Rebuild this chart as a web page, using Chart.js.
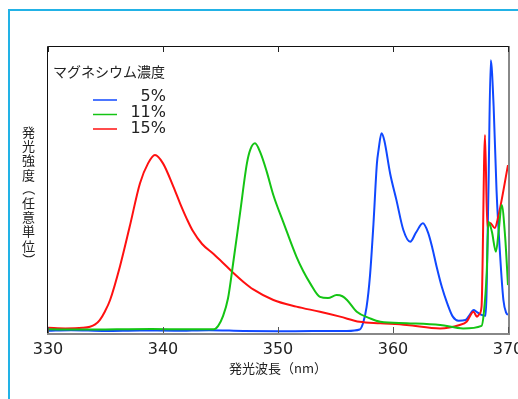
<!DOCTYPE html>
<html>
<head>
<meta charset="utf-8">
<script src="https://cdn.jsdelivr.net/npm/chart.js@4.4.1/dist/chart.umd.min.js"></script>
<style>
  body { margin: 0; background: #fff; }
</style>
</head>
<body>
<canvas id="spectrum" width="518" height="399"></canvas>
<script>
// Emission spectra, wavelength (nm) vs intensity (arb. units, 0-100)
const seriesLabels = ['5%', '11%', '15%'];
const legendTitle = 'マグネシウム濃度';
const yTitle = '発光強度（任意単位）';

const wl5 = [330, 332, 335, 338, 341, 344, 347, 350, 353, 356,
  357.1, 357.4, 357.7, 358.0, 358.3, 358.6, 358.75, 359.0, 359.25, 359.75,
  360.3, 360.9, 361.5, 362.0, 362.6, 363.05, 363.4, 363.8, 364.25, 364.7,
  365.2, 365.7, 366.3, 366.7, 367.0, 367.3, 367.7, 368.05, 368.3, 368.5,
  368.75, 369.0, 369.3, 369.6, 369.85, 370];
const int5 = [0.8, 1.0, 0.7, 0.9, 0.8, 1.0, 0.7, 0.6, 0.7, 0.7,
  1.2, 3.5, 9, 20, 38, 59, 64, 69.6, 67, 55.6,
  46.3, 35.9, 31.8, 35, 38.2, 35, 30, 23, 16, 10.5,
  5.7, 4.3, 4.5, 6.5, 8, 7.3, 6.3, 6, 50, 95,
  79, 50, 28, 11.5, 7, 6.3];

const wl11 = [330, 333, 336, 339, 342, 344.4, 344.8, 345.2, 345.65, 346.1,
  346.7, 347.3, 347.6, 348.0, 348.45, 349.0, 349.6, 350.5, 351.6, 352.2,
  352.8, 353.65, 354.35, 355.1, 355.6, 356.0, 356.85, 358.0, 358.9, 361.2,
  364.1, 366.1, 367.7, 367.9, 368.15, 368.3, 368.6, 368.95, 369.2, 369.45,
  369.75, 370];
const int11 = [1.3, 1.2, 1.3, 1.4, 1.3, 1.3, 2.5, 5.7, 12, 24.3,
  41.8, 59.2, 64, 66.1, 63, 56.5, 48, 38.2, 26.6, 21.5,
  17.3, 12.6, 12.2, 13.2, 12.8, 11.5, 7.4, 5.1, 3.9, 3.4,
  2.8, 1.6, 2.5, 7, 21, 38.8, 35.3, 28.3, 36, 44.6,
  33.6, 16.7];

const wl15 = [330, 331.5, 333, 333.65, 334.1, 334.5, 334.95, 335.4, 336.25, 337.1,
  338.0, 338.7, 339.3, 340.0, 340.9, 341.5, 342.1, 342.6, 343.4, 344.4,
  345.2, 346.1, 347.0, 347.85, 349.6, 351.6, 353.65, 355.4, 357.1, 358.9,
  361.2, 364.1, 365.8, 366.4, 367.0, 367.3, 367.5, 367.7, 368.0, 368.2,
  368.45, 368.85, 369.15, 370];
const int15 = [1.8, 1.6, 1.8, 2.2, 3, 4.5, 7.5, 11.5, 23.1, 37,
  52.2, 59.1, 62, 59.1, 51, 45, 39.5, 35.5, 31, 27.5,
  24.5, 21, 17.8, 15.2, 11.5, 9.2, 7.4, 5.7, 3.9, 3.4,
  2.8, 1.6, 2.8, 3.9, 7.4, 5.7, 6.5, 9.2, 69, 37,
  38.3, 36.6, 40.5, 58.5];

const colors = ['#1048ff', '#14c414', '#ff1010'];
const jpFont = '"Noto Sans CJK JP", sans-serif';
const numFont = '"DejaVu Sans", sans-serif';

function toPoints(xs, ys) {
  return xs.map((w, i) => ({ x: w, y: ys[i] }));
}

// cyan page frame, plot box with inward ticks, vertical y title
const framePlugin = {
  id: 'frame',
  beforeDraw(chart) {
    const ctx = chart.ctx;
    ctx.save();
    ctx.strokeStyle = '#22b2e6';
    ctx.lineWidth = 2;
    ctx.beginPath();
    ctx.moveTo(9, 399);
    ctx.lineTo(9, 10);
    ctx.lineTo(518, 10);
    ctx.stroke();
    ctx.restore();
  },
  afterDraw(chart) {
    const { ctx, chartArea: a, scales: { x } } = chart;
    ctx.save();
    ctx.lineWidth = 1;
    ctx.strokeStyle = '#111';
    ctx.beginPath();
    ctx.moveTo(a.left - 0.5, a.bottom + 1);
    ctx.lineTo(a.left - 0.5, a.top + 0.5);
    ctx.lineTo(a.right + 1, a.top + 0.5);
    ctx.stroke();
    ctx.lineWidth = 2;
    ctx.strokeStyle = '#888';
    ctx.beginPath();
    ctx.moveTo(a.right + 1, a.top);
    ctx.lineTo(a.right + 1, a.bottom + 2);
    ctx.moveTo(a.left - 1, a.bottom + 1);
    ctx.lineTo(a.right + 2, a.bottom + 1);
    ctx.stroke();
    ctx.lineWidth = 1;
    x.ticks.forEach(t => {
      const px = Math.round(x.getPixelForValue(t.value)) + 0.5;
      ctx.strokeStyle = '#222';
      ctx.beginPath();
      ctx.moveTo(px, a.top);
      ctx.lineTo(px, a.top + 6);
      ctx.stroke();
      ctx.strokeStyle = '#555';
      ctx.beginPath();
      ctx.moveTo(px, a.bottom);
      ctx.lineTo(px, a.bottom - 6);
      ctx.stroke();
    });

    ctx.fillStyle = '#222';
    ctx.font = '13px ' + jpFont;
    ctx.textAlign = 'center';
    ctx.textBaseline = 'middle';
    [...yTitle].forEach((c, i) => {
      const cy = 132 + i * 14.2;
      if (c === '（' || c === '）') {
        ctx.save();
        ctx.translate(28.5, cy);
        ctx.rotate(Math.PI / 2);
        ctx.fillText(c, 0, 0);
        ctx.restore();
      } else {
        ctx.fillText(c, 28.5, cy);
      }
    });
    ctx.restore();
  }
};

// legend in the upper-left of the plot
const legendPlugin = {
  id: 'innerLegend',
  afterDraw(chart) {
    const ctx = chart.ctx;
    ctx.save();
    ctx.fillStyle = '#222';
    ctx.textBaseline = 'middle';
    ctx.font = '14px ' + jpFont;
    ctx.textAlign = 'left';
    ctx.fillText(legendTitle, 53, 72);
    ctx.font = '16px ' + numFont;
    ctx.textAlign = 'right';
    chart.data.datasets.forEach((ds, i) => {
      const ly = 100 + i * 14.5;
      ctx.strokeStyle = ds.borderColor;
      ctx.lineWidth = 1.5;
      ctx.beginPath();
      ctx.moveTo(93, ly);
      ctx.lineTo(117, ly);
      ctx.stroke();
      ctx.fillText(ds.label, 166, 97 + i * 16);
    });
    ctx.restore();
  }
};

const ctx = document.getElementById('spectrum').getContext('2d');
const spectrumChart = new Chart(ctx, {
  type: 'line',
  data: {
    datasets: [
      { label: seriesLabels[0], data: toPoints(wl5, int5), borderColor: colors[0], order: 2 },
      { label: seriesLabels[1], data: toPoints(wl11, int11), borderColor: colors[1], order: 0 },
      { label: seriesLabels[2], data: toPoints(wl15, int15), borderColor: colors[2], order: 1 }
    ]
  },
  options: {
    responsive: false,
    animation: false,
    datasets: {
      line: { borderWidth: 2, pointRadius: 0, fill: false, cubicInterpolationMode: 'monotone' }
    },
    layout: { padding: { left: 48, right: 10, top: 46, bottom: 0 } },
    plugins: {
      legend: { display: false },
      tooltip: { enabled: false }
    },
    scales: {
      x: {
        type: 'linear',
        min: 330,
        max: 370,
        ticks: {
          stepSize: 10,
          maxRotation: 0,
          padding: 7,
          color: '#222',
          font: { family: numFont, size: 16 }
        },
        grid: { display: false, drawTicks: false },
        border: { display: false },
        title: {
          display: true,
          text: '発光波長（nm）',
          color: '#222',
          font: { family: jpFont, size: 13 },
          padding: { top: 0, bottom: 23 }
        },
        afterFit: s => {
          s.height = 66;
          s.paddingLeft = 0;
          s.paddingRight = 0;
        }
      },
      y: { display: false, min: 0, max: 100 }
    }
  },
  plugins: [framePlugin, legendPlugin]
});
</script>
</body>
</html>
